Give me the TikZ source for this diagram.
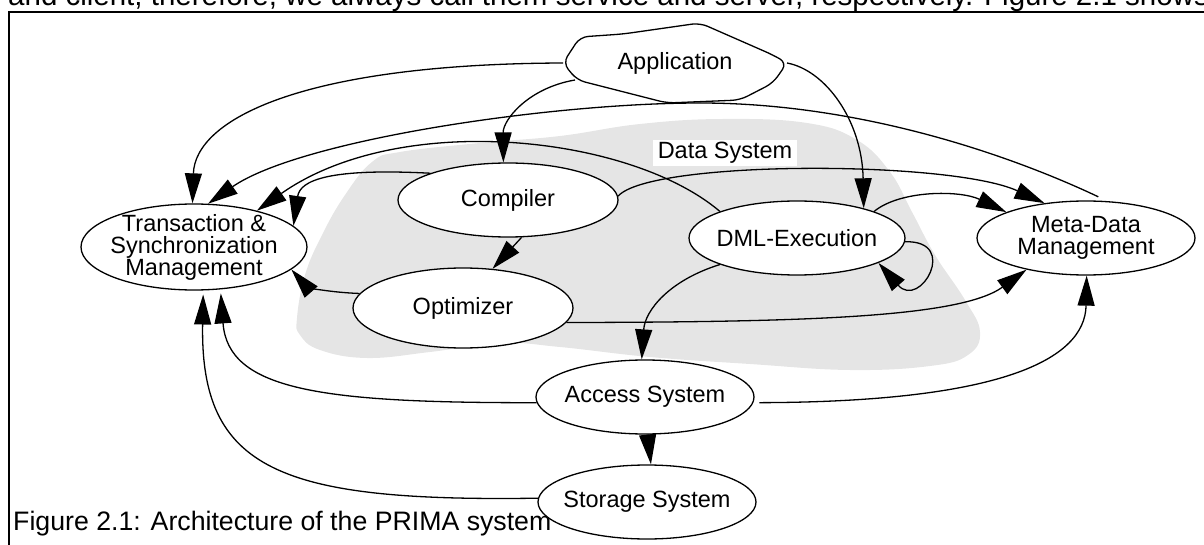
\documentclass[tikz,border=0pt]{standalone}
\usepackage{fontspec}
\setmainfont{Liberation Sans}
\usetikzlibrary{shapes.geometric,arrows.meta}

\begin{document}
\begin{tikzpicture}[
		x=1pt, y=-1pt,
		module/.style={ellipse, draw, fill=white, line width=1.3pt, inner sep=-12pt,
			align=center, font=\fontsize{23.5}{22}\selectfont},
		link/.style={line width=1.3pt, -{Triangle[length=30pt,width=17pt]}},
		plain/.style={line width=1.3pt}
	]
	\useasboundingbox (0,0) rectangle (1204,545);
	\clip (0,0) rectangle (1204,545);

	% data system area
	\fill[black!10] plot[smooth cycle, tension=0.7] coordinates {
		(297,318) (305,275) (322,235) (345,195) (372,162) (400,152) (480,143)
		(560,136) (640,124) (723,119) (807,123) (857,140) (890,172) (912,212)
		(935,255) (965,300) (980,332) (968,355) (930,366) (850,370) (750,364)
		(650,357) (560,347) (500,343) (430,352) (367,358) (320,350) (300,335)};

	% frame and texts
	\draw[line width=1.5pt] (9,560) -- (9,12) -- (1220,12);
	\node[anchor=base west, inner sep=0pt, font=\fontsize{29.5}{30}\selectfont] (prevline) at (8,6)
		{and client; therefore, we always call them service and server, respectively. Figure 2.1 shows};
	\node[anchor=base west, inner sep=0pt, font=\fontsize{26.7}{28}\selectfont] (caption) at (13,530)
		{Figure 2.1: Architecture of the PRIMA system};
	\node[fill=white, inner xsep=5pt, inner ysep=2pt, font=\fontsize{23.5}{21}\selectfont] (ds) at (725,153) {Data System};

	% application
	\draw[plain, fill=white, rounded corners=8pt] (563,63) -- (580,37) -- (623,34) -- (700,23) -- (773,55)
		-- (787,63) -- (773,83) -- (740,100) -- (667,103) -- (577,80) -- cycle;
	\node[font=\fontsize{23.5}{21}\selectfont] (app) at (675,63) {Application};
	\coordinate (app-w) at (563,63);
	\coordinate (app-sw) at (575,80);
	\coordinate (app-e) at (787,63);

	% modules
	\node[module, minimum width=226pt, minimum height=86pt] (tsm) at (194,247) {Transaction \&\\Synchronization\\Management};
	\node[module, minimum width=220pt, minimum height=74pt] (comp) at (508,200) {Compiler};
	\node[module, minimum width=220pt, minimum height=80pt] (opt) at (463,308) {Optimizer};
	\node[module, minimum width=216pt, minimum height=74pt] (dml) at (797,238) {DML-Execution};
	\node[module, minimum width=218pt, minimum height=74pt] (meta) at (1086,238) {Meta-Data\\Management};
	\node[module, minimum width=218pt, minimum height=74pt] (acc) at (645,397) {Access System};
	\node[module, minimum width=218pt, minimum height=74pt] (sto) at (647,502) {Storage System};

	% connections
	\draw[link] (app-w) .. controls (300,64) and (195,120) .. (tsm.92);
	\draw[link] (app-sw) .. controls (528,88) and (503,120) .. (comp.97);
	\draw[link] (app-e) .. controls (825,70) and (862,120) .. (dml.24);
	\draw[link, shorten <=10pt] (meta.60) .. controls (1010,155) and (860,103) .. (700,103)
		.. controls (550,103) and (300,140) .. (tsm.72);
	\draw[link] (dml.161) .. controls (630,135) and (400,110) .. (tsm.30);
	\draw[link] (comp.161) .. controls (330,168) and (300,180) .. (tsm.12);
	\draw[link] (comp.2) .. controls (650,160) and (950,160) .. (meta.140);
	\draw[link] (dml.19) .. controls (900,190) and (960,190) .. (meta.162);
	\draw[link] (dml.-2) .. controls (960,240) and (920,310) .. (dml.-17);
	\draw[link] (comp.-70) -- (opt.53);
	\draw[link] (opt.172) .. controls (320,292) and (305,285) .. (tsm.-13);
	\draw[link] (opt.-8) .. controls (800,322) and (960,318) .. (meta.208);
	\draw[link] (dml.199) .. controls (670,280) and (645,310) .. (acc.95);
	\draw[link] (acc.-86) -- (sto.84);
	\draw[link, shorten <=6pt] (acc.-3) .. controls (1000,402) and (1085,360) .. (meta.-89);
	\draw[link, shorten >=4pt] (acc.183) .. controls (320,403) and (228,390) .. (tsm.-58);
	\draw[link, shorten >=4pt] (sto.178) .. controls (280,502) and (200,470) .. (tsm.-78);
\end{tikzpicture}
\end{document}
